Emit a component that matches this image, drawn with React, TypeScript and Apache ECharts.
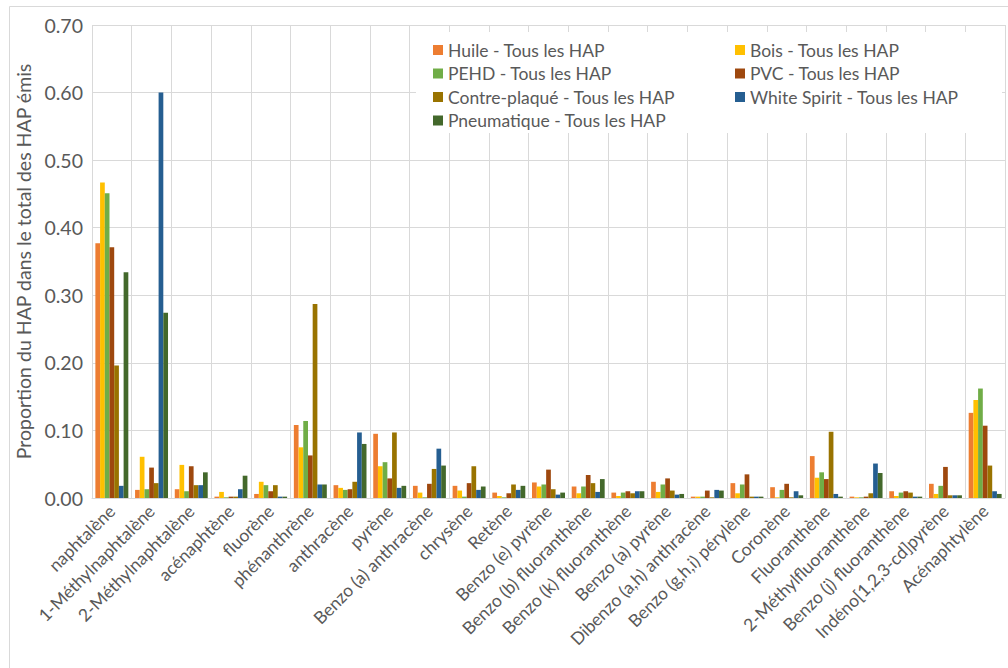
import React, { useEffect, useRef } from "react";
import * as echarts from "echarts";

const categories = [
  "naphtalène",
  "1-Méthylnaphtalène",
  "2-Méthylnaphtalène",
  "acénaphtène",
  "fluorène",
  "phénanthrène",
  "anthracène",
  "pyrène",
  "Benzo (a) anthracène",
  "chrysène",
  "Retène",
  "Benzo (e) pyrène",
  "Benzo (b) fluoranthène",
  "Benzo (k) fluoranthène",
  "Benzo (a) pyrène",
  "Dibenzo (a,h) anthracène",
  "Benzo (g,h,i) pérylène",
  "Coronène",
  "Fluoranthène",
  "2-Méthylfluoranthène",
  "Benzo (j) fluoranthène",
  "Indéno[1,2,3-cd]pyrène",
  "Acénaphtylène",
];

const huile = [0.377, 0.012, 0.013, 0.002, 0.006, 0.108, 0.019, 0.095, 0.018, 0.018, 0.008, 0.023, 0.017, 0.008, 0.024, 0.002, 0.022, 0.016, 0.062, 0.002, 0.01, 0.021, 0.126];
const bois = [0.467, 0.061, 0.049, 0.009, 0.024, 0.075, 0.015, 0.047, 0.008, 0.011, 0.003, 0.017, 0.007, 0.003, 0.009, 0.002, 0.007, 0.001, 0.03, 0.001, 0.003, 0.006, 0.145];
const pehd = [0.451, 0.013, 0.01, 0.001, 0.019, 0.114, 0.012, 0.053, 0.001, 0.002, 0.001, 0.02, 0.017, 0.008, 0.02, 0.002, 0.02, 0.012, 0.038, 0.001, 0.008, 0.018, 0.162];
const pvc = [0.371, 0.045, 0.047, 0.002, 0.01, 0.063, 0.013, 0.029, 0.021, 0.022, 0.007, 0.042, 0.034, 0.01, 0.029, 0.011, 0.035, 0.021, 0.028, 0.002, 0.01, 0.046, 0.107];
const contrePlaque = [0.196, 0.022, 0.019, 0.002, 0.019, 0.287, 0.024, 0.097, 0.043, 0.047, 0.02, 0.013, 0.022, 0.007, 0.011, 0.001, 0.002, 0.001, 0.098, 0.007, 0.008, 0.004, 0.048];
const whiteSpirit = [0.018, 0.6, 0.019, 0.013, 0.002, 0.02, 0.097, 0.015, 0.073, 0.012, 0.012, 0.005, 0.009, 0.01, 0.005, 0.012, 0.002, 0.01, 0.006, 0.051, 0.002, 0.004, 0.01];
const pneumatique = [0.334, 0.274, 0.038, 0.033, 0.002, 0.02, 0.08, 0.018, 0.048, 0.017, 0.018, 0.008, 0.028, 0.01, 0.006, 0.011, 0.002, 0.004, 0.002, 0.037, 0.002, 0.004, 0.006];

const seriesNames = [
  "Huile - Tous les HAP",
  "Bois - Tous les HAP",
  "PEHD - Tous les HAP",
  "PVC - Tous les HAP",
  "Contre-plaqué - Tous les HAP",
  "White Spirit - Tous les HAP",
  "Pneumatique - Tous les HAP",
];
const seriesData = [huile, bois, pehd, pvc, contrePlaque, whiteSpirit, pneumatique];
const colors = ["#ED7D31", "#FFC000", "#70AD47", "#9E480E", "#997300", "#255E91", "#43682B"];

const yTicks = [0, 0.1, 0.2, 0.3, 0.4, 0.5, 0.6, 0.7];

const FONT = "Lato, 'Open Sans', sans-serif";
const TEXT = "#595959";

export default function App() {
  const ref = useRef<HTMLDivElement>(null);
  useEffect(() => {
    if (!ref.current) return;
    const chart = echarts.init(ref.current, null, { renderer: "svg" });
    const legendText = { fontFamily: FONT, fontSize: 17.5, color: TEXT, lineHeight: 18 };
    chart.setOption({
      animation: false,
      color: colors,
      textStyle: { fontFamily: FONT },
      grid: { left: 92, right: 3, top: 25, bottom: 170, containLabel: false },
      graphic: [
        {
          type: "rect",
          left: 7,
          top: 4,
          shape: { x: 0, y: 0, width: 1010, height: 680 },
          style: { fill: "none", stroke: "#d9d9d9", lineWidth: 1 },
          z: 0,
          silent: true,
        },
        {
          type: "rect",
          shape: { x: 416, y: 32, width: 586, height: 101 },
          style: { fill: "#ffffff" },
          z: 1,
          silent: true,
        },
      ],
      legend: [
        {
          data: [seriesNames[0], seriesNames[2], seriesNames[4], seriesNames[6]],
          orient: "vertical",
          left: 428,
          top: 36,
          itemWidth: 10,
          itemHeight: 10,
          itemGap: 5.5,
          icon: "rect",
          textStyle: legendText,
          selectedMode: false,
          z: 5,
        },
        {
          data: [seriesNames[1], seriesNames[3], seriesNames[5]],
          orient: "vertical",
          left: 730,
          top: 36,
          itemWidth: 10,
          itemHeight: 10,
          itemGap: 5.5,
          icon: "rect",
          textStyle: legendText,
          selectedMode: false,
          z: 5,
        },
      ],
      xAxis: {
        type: "category",
        data: categories,
        axisTick: { show: false },
        axisLine: { lineStyle: { color: "#d9d9d9" } },
        splitLine: { show: true, lineStyle: { color: "#d9d9d9", width: 1 } },
        axisLabel: {
          interval: 0,
          rotate: 45,
          fontSize: 17.5,
          color: TEXT,
          fontFamily: FONT,
          margin: 10,
        },
      },
      yAxis: {
        type: "value",
        min: 0,
        max: 0.7,
        interval: 0.1,
        name: "Proportion du HAP dans le total des HAP émis",
        nameLocation: "middle",
        nameGap: 56,
        nameTextStyle: { fontSize: 19.5, color: TEXT, fontFamily: FONT },
        axisLine: { show: false },
        axisTick: { show: false },
        splitLine: { lineStyle: { color: "#d9d9d9", width: 1 } },
        axisLabel: {
          fontSize: 19.5,
          color: TEXT,
          fontFamily: FONT,
          margin: 9,
          formatter: (v: number) => (yTicks.some((t) => Math.abs(t - v) < 1e-9) ? v.toFixed(2) : ""),
        },
      },
      series: seriesData.map((d, i) => ({
        name: seriesNames[i],
        type: "bar",
        data: d,
        barGap: "0%",
        barCategoryGap: "17%",
        itemStyle: { color: colors[i] },
        z: 2,
      })),
    });
    return () => chart.dispose();
  }, []);
  return (
    <div
      ref={ref}
      style={{ position: "fixed", left: 0, top: 0, width: 1008, height: 668, background: "#fff" }}
    />
  );
}
